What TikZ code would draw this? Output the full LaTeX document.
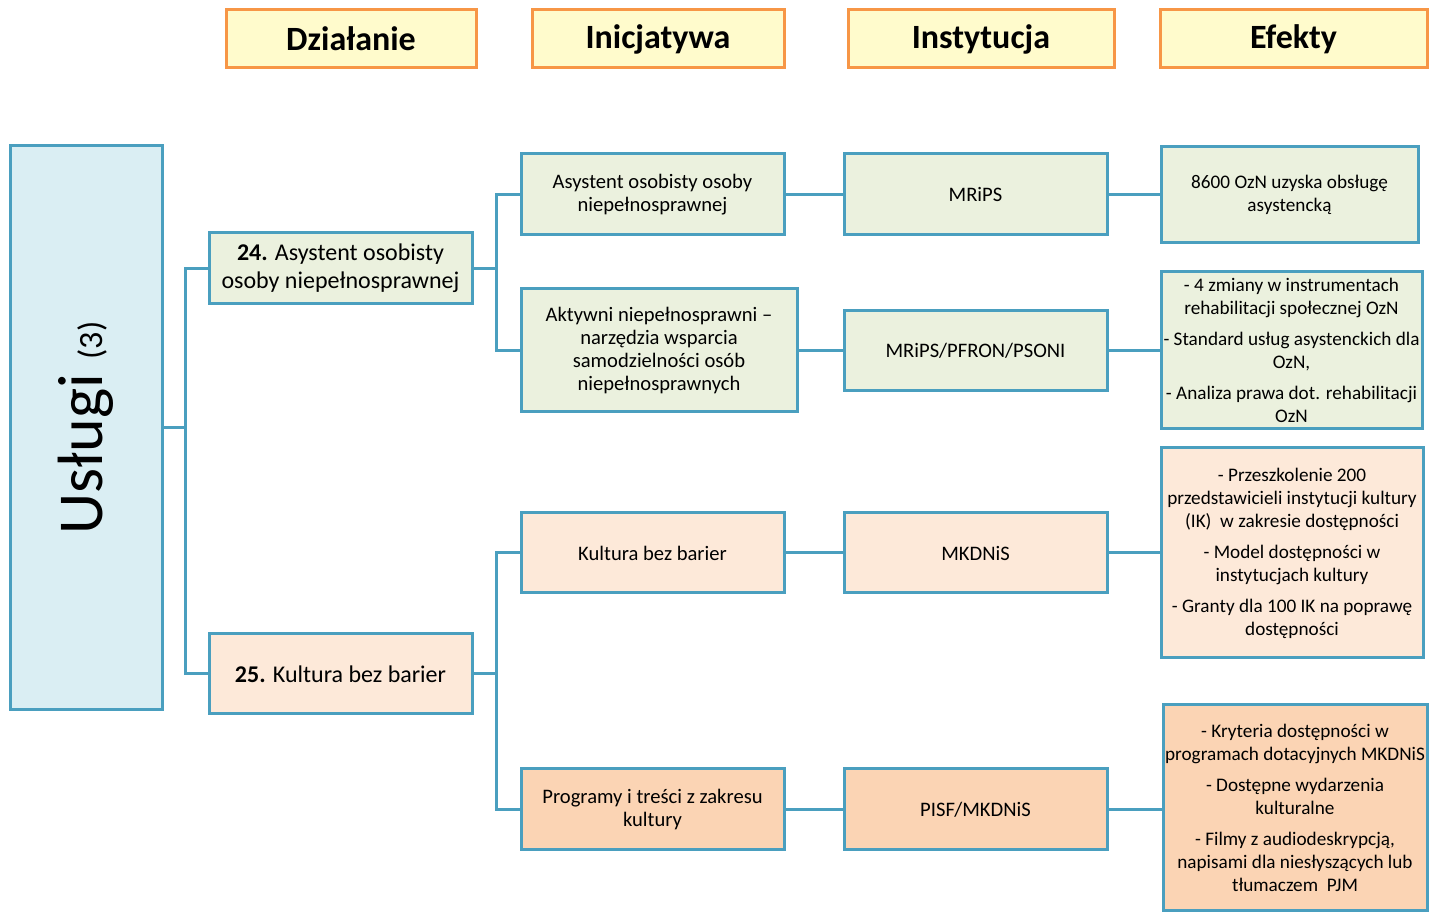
\documentclass[tikz,border=0pt]{standalone}
\usepackage{fontspec}
\setmainfont{Carlito}
\definecolor{tealline}{HTML}{4A9FBF}
\definecolor{hdrfill}{HTML}{FFFBCC}
\definecolor{hdrline}{HTML}{F79646}
\definecolor{bluefill}{HTML}{DAEEF3}
\definecolor{greenfill}{HTML}{EBF1DE}
\definecolor{peachfill}{HTML}{FDE9D9}
\definecolor{peachdark}{HTML}{FBD4B4}
\tikzset{
  hdr/.style={draw=hdrline, fill=hdrfill, line width=1.5pt, minimum height=29pt, font=\fontsize{17}{20}\selectfont\bfseries},
  box/.style={draw=tealline, line width=1.5pt, align=center, inner sep=0pt, font=\fontsize{10.3}{11.5}\selectfont},
  green/.style={box, fill=greenfill},
  peach/.style={box, fill=peachfill},
  peachd/.style={box, fill=peachdark},
  efx/.style={font=\fontsize{9.6}{11.5}\selectfont},
  conn/.style={draw=tealline, line width=1.5pt}
}
\begin{document}
\begin{tikzpicture}[x=0.5pt, y=-0.5pt]
\useasboundingbox (0,0) rectangle (1437,913);
\node[hdr, minimum width=125pt](dzial) at (351,39){Działanie};
\node[hdr, minimum width=126pt](inic) at (658,39){Inicjatywa};
\node[hdr, minimum width=133pt](inst) at (981,39){Instytucja};
\node[hdr, minimum width=133.5pt](efekt) at (1293.5,39){Efekty};
\node[box, fill=bluefill, minimum width=282pt, minimum height=76pt, rotate=90](uslugi) at (86,428){{\fontsize{32}{36}\selectfont Usługi~}{\fontsize{17}{20}\selectfont (3)}};
\node[green, minimum width=131.5pt, minimum height=35.5pt, font=\fontsize{12}{14}\selectfont](d24) at (340.5,268.5){\textbf{24.} Asystent osobisty\\osoby niepełnosprawnej};
\node[peach, minimum width=131.5pt, minimum height=40pt, font=\fontsize{12}{14}\selectfont](d25) at (340.5,674){\textbf{25.} Kultura bez barier};
\node[green, minimum width=131.5pt, minimum height=40.5pt](i1) at (652.5,194.5){Asystent osobisty osoby\\niepełnosprawnej};
\node[green, minimum width=138pt, minimum height=61.5pt](i2) at (659,350.5){Aktywni niepełnosprawni –\\narzędzia wsparcia\\samodzielności osób\\niepełnosprawnych};
\node[peach, minimum width=131.5pt, minimum height=40pt](i3) at (652.5,553){Kultura bez barier};
\node[peachd, minimum width=131.5pt, minimum height=40.5pt](i4) at (652.5,809.5){Programy i treści z zakresu\\kultury};
\node[green, minimum width=131.5pt, minimum height=40.5pt](n1) at (975.5,194.5){MRiPS};
\node[green, minimum width=131.5pt, minimum height=40pt](n2) at (975.5,350.5){MRiPS/PFRON/PSONI};
\node[peach, minimum width=131.5pt, minimum height=40pt](n3) at (975.5,553){MKDNiS};
\node[peachd, minimum width=131.5pt, minimum height=40.5pt](n4) at (975.5,809.5){PISF/MKDNiS};
\node[green, efx, minimum width=128.5pt, minimum height=48pt](e1) at (1289.5,194.5){8600 OzN uzyska obsługę\\asystencką};
\node[green, efx, minimum width=130.5pt, minimum height=78.5pt](e2) at (1291.5,350.5){- 4 zmiany w instrumentach\\rehabilitacji społecznej OzN\\[4pt]- Standard usług asystenckich dla\\OzN,\\[4pt]- Analiza prawa dot. rehabilitacji\\OzN};
\node[peach, efx, minimum width=131pt, minimum height=105pt](e3) at (1292,553){- Przeszkolenie 200\\przedstawicieli instytucji kultury\\(IK)\ \ w zakresie dostępności\\[4pt]- Model dostępności w\\instytucjach kultury\\[4pt]- Granty dla 100 IK na poprawę\\dostępności};
\node[peachd, efx, minimum width=132pt, minimum height=103pt](e4) at (1295,807.5){- Kryteria dostępności w\\programach dotacyjnych MKDNiS\\[4pt]- Dostępne wydarzenia\\kulturalne\\[4pt]- Filmy z audiodeskrypcją,\\napisami dla niesłyszących lub\\tłumaczem\ \ PJM};
\draw[conn](uslugi.south)--++(22,0)|-(d24.west);
\draw[conn](uslugi.south)--++(22,0)|-(d25.west);
\draw[conn](d24.east)--++(23,0)|-(i1.west);
\draw[conn](d24.east)--++(23,0)|-(i2.west);
\draw[conn](d25.east)--++(23,0)|-(i3.west);
\draw[conn](d25.east)--++(23,0)|-(i4.west);
\draw[conn](i1)--(n1);
\draw[conn](i2)--(n2);
\draw[conn](i3)--(n3);
\draw[conn](i4)--(n4);
\draw[conn](n1)--(e1);
\draw[conn](n2)--(e2);
\draw[conn](n3)--(e3);
\draw[conn](n4.east)--(n4.east-|e4.west);
\end{tikzpicture}
\end{document}
